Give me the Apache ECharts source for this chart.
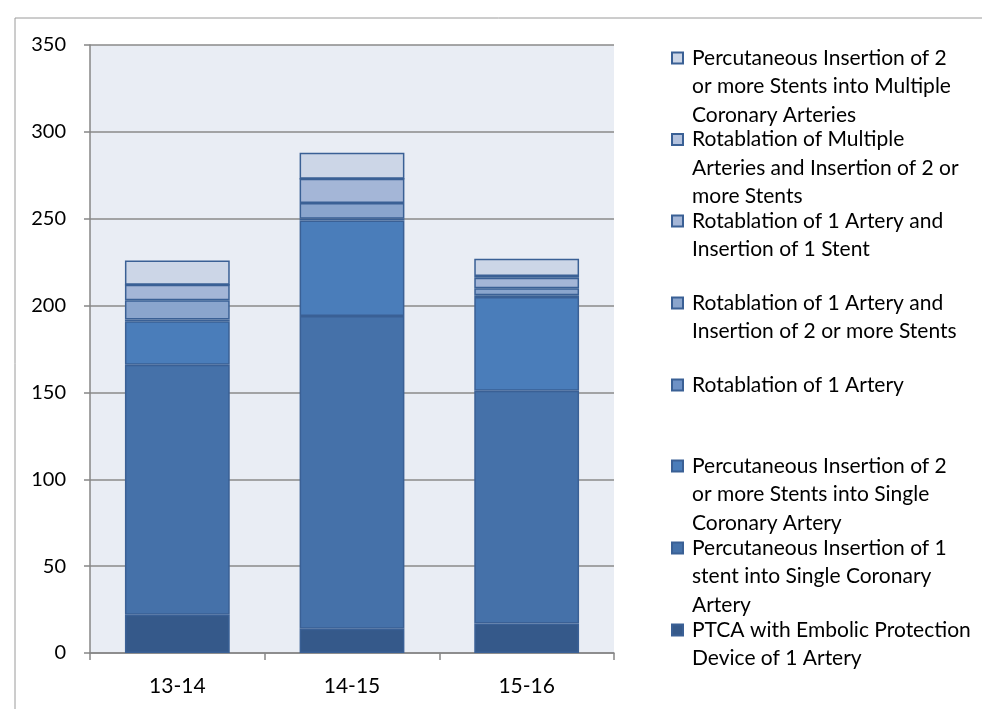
<!DOCTYPE html>
<html>
<head>
<meta charset="utf-8">
<script src="https://cdn.jsdelivr.net/npm/echarts@6/dist/echarts.min.js"></script>
<style>
html,body{margin:0;padding:0;background:#fff;}
#chart{width:982px;height:709px;}
</style>
</head>
<body>
<div id="chart"></div>
<script>
// categories (financial years)
var categories = ['13-14', '14-15', '15-16'];

// stacked series, bottom to top
var ptca = [22, 14, 17];
var oneStentSingle = [144, 180, 134];
var multiStentSingle = [25, 55, 54];
var rotOne = [1, 1, 1];
var rotOneMultiStent = [11, 9, 4];
var rotOneOneStent = [9, 14, 6];
var rotMultiple = [0, 0, 1];
var percMultiple = [14, 15, 10];

var seriesNames = [
    'PTCA with Embolic Protection Device of 1 Artery',
    'Percutaneous Insertion of 1 stent into Single Coronary Artery',
    'Percutaneous Insertion of 2 or more Stents into Single Coronary Artery',
    'Rotablation of 1 Artery',
    'Rotablation of 1 Artery and Insertion of 2 or more Stents',
    'Rotablation of 1 Artery and Insertion of 1 Stent',
    'Rotablation of Multiple Arteries and Insertion of 2 or more Stents',
    'Percutaneous Insertion of 2 or more Stents into Multiple Coronary Arteries'
];
// legend text as wrapped in the picture
var legendLabels = [
    'PTCA with Embolic Protection\nDevice of 1 Artery',
    'Percutaneous Insertion of 1\nstent into Single Coronary\nArtery',
    'Percutaneous Insertion of 2\nor more Stents into Single\nCoronary Artery',
    'Rotablation of 1 Artery',
    'Rotablation of 1 Artery and\nInsertion of 2 or more Stents',
    'Rotablation of 1 Artery and\nInsertion of 1 Stent',
    'Rotablation of Multiple\nArteries and Insertion of 2 or\nmore Stents',
    'Percutaneous Insertion of 2\nor more Stents into Multiple\nCoronary Arteries'
];
var seriesData = [ptca, oneStentSingle, multiStentSingle, rotOne, rotOneMultiStent, rotOneOneStent, rotMultiple, percMultiple];
var colors = ['#35598a', '#4571a9', '#4a7dba', '#6d91c6', '#8aa5cd', '#a4b6d7', '#b3c2de', '#ccd6e7'];
// y of the first text line of each legend entry
var legendRowY = [630, 548, 466, 385, 303, 221, 139.5, 58];

var lh = 28.5;
var chart = echarts.init(document.getElementById('chart'));

var legends = seriesNames.map(function (name, i) {
    var lines = legendLabels[i].split('\n').length;
    return {
        data: [name],
        orient: 'vertical',
        left: 671,
        top: legendRowY[i] - (2 * lines - 1) * lh / 2,
        padding: 0,
        itemGap: 0,
        itemWidth: 11,
        itemHeight: 11,
        icon: 'rect',
        selectedMode: false,
        formatter: function () {
            return '\n'.repeat(lines - 1) + legendLabels[i];
        },
        textStyle: {
            fontFamily: 'Lato',
            fontSize: 21,
            lineHeight: lh,
            color: '#000',
            padding: [0, 0, 0, 4]
        }
    };
});

var option = {
    animation: false,
    textStyle: {fontFamily: 'Lato'},
    grid: {
        left: 90,
        right: 368,
        top: 45,
        bottom: 56,
        show: true,
        backgroundColor: '#e9edf4',
        borderWidth: 0
    },
    legend: legends,
    xAxis: {
        type: 'category',
        data: categories,
        axisLine: {lineStyle: {color: '#868686', width: 1.5}},
        axisTick: {show: true, length: 7, lineStyle: {color: '#868686', width: 1.5}},
        axisLabel: {fontSize: 21, color: '#000', margin: 23, fontFamily: 'Lato'}
    },
    yAxis: {
        type: 'value',
        min: 0,
        max: 350,
        interval: 50,
        axisLine: {show: true, lineStyle: {color: '#868686', width: 1.5}},
        axisTick: {show: true, length: 6, lineStyle: {color: '#868686', width: 1.5}},
        splitLine: {lineStyle: {color: '#8a8a8a', width: 1.5}},
        axisLabel: {fontSize: 20, color: '#000', margin: 24, fontFamily: 'Lato'}
    },
    graphic: [
        {type: 'line', shape: {x1: 15, y1: 18, x2: 982, y2: 18}, style: {stroke: '#9a9a9a', lineWidth: 1}},
        {type: 'line', shape: {x1: 15, y1: 18, x2: 15, y2: 709}, style: {stroke: '#9a9a9a', lineWidth: 1}}
    ],
    series: seriesNames.map(function (name, i) {
        return {
            name: name,
            type: 'bar',
            stack: 'total',
            barWidth: '60%',
            data: seriesData[i],
            itemStyle: {color: colors[i], borderColor: '#3a6095', borderWidth: 1.5}
        };
    })
};
chart.setOption(option);
</script>
</body>
</html>
